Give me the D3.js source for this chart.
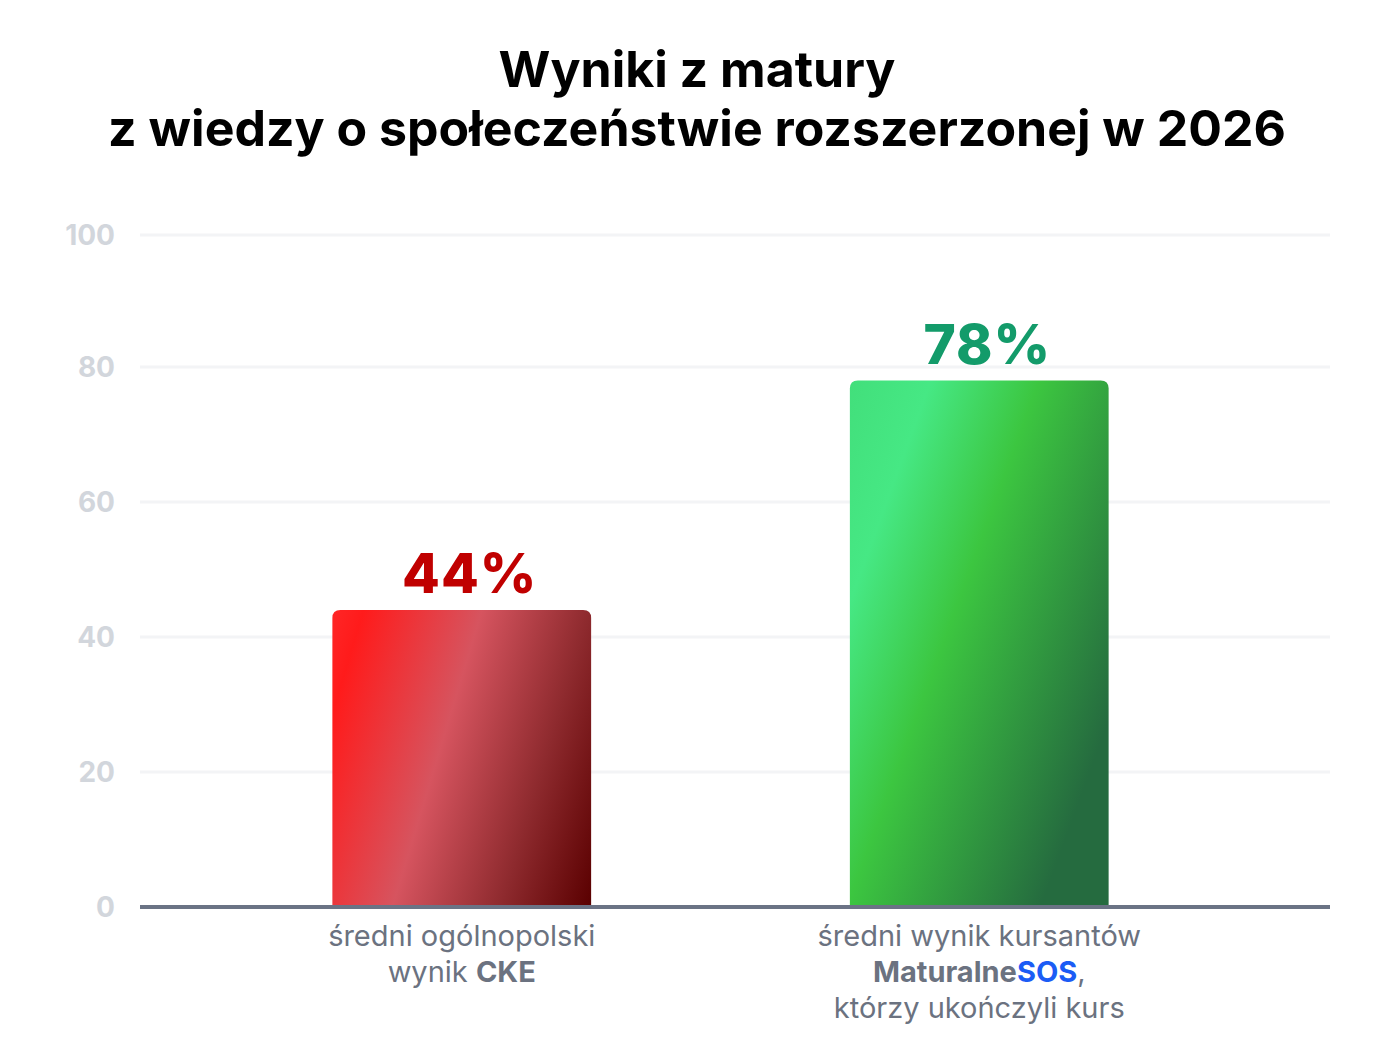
<!DOCTYPE html>
<html>
<head>
<meta charset="utf-8">
<script src="https://cdn.jsdelivr.net/npm/d3@7"></script>
<style>
  html, body { margin: 0; padding: 0; background: #ffffff; }
  svg { display: block; font-family: Inter, "Noto Sans", sans-serif; }
</style>
</head>
<body>
<svg id="chart" width="1388" height="1063"></svg>
<script>
// ---- data ----
const titleLines = ["Wyniki z matury", "z wiedzy o społeczeństwie rozszerzonej w 2026"];
const categories = ["cke", "sos"];
const values = [44, 78];
const valueLabels = ["44%", "78%"];
const categoryLabelLines = [
  ["średni ogólnopolski", "wynik **CKE**"],
  ["średni wynik kursantów", "**Maturalne**[[SOS]],", "którzy ukończyli kurs"]
];
const yTicks = [0, 20, 40, 60, 80, 100];

// ---- styles ----
const valueColors = ["#c00000", "#139b6a"];
const gradients = [
  { dir: [0.957, 0.289], stops: [[0, "#ff2626"], [0.09, "#ff1b1b"], [0.43, "#d6545f"], [0.74, "#8e2a2e"], [1, "#5a0000"]] },
  { dir: [0.939, 0.343], stops: [[0, "#42df7b"], [0.18, "#46e884"], [0.42, "#3cc640"], [0.85, "#256b3f"], [1, "#256b3f"]] }
];

const svg = d3.select("#chart");
const plot = { left: 140, right: 1330, top: 232, bottom: 907 };

const x = d3.scaleBand().domain(categories).range([203, 1238]).paddingInner(0.5).paddingOuter(0.25);
const y = d3.scaleLinear().domain([0, 100]).range([plot.bottom, plot.top]);

// title
svg.append("g").selectAll("text").data(titleLines).join("text")
  .attr("x", 697)
  .attr("y", (d, i) => 87 + i * 59)
  .attr("text-anchor", "middle")
  .attr("font-size", 50)
  .attr("font-weight", 700)
  .attr("fill", "#000")
  .text(d => d);

// gridlines
svg.append("g").selectAll("line").data(yTicks.filter(t => t > 0)).join("line")
  .attr("x1", plot.left).attr("x2", plot.right)
  .attr("y1", d => y(d) + (d === 100 ? 3 : 0))
  .attr("y2", d => y(d) + (d === 100 ? 3 : 0))
  .attr("stroke", "#f3f4f6").attr("stroke-width", 3);

// y tick labels
svg.append("g").selectAll("text").data(yTicks).join("text")
  .attr("x", 115)
  .attr("y", d => y(d) + (d === 100 ? 3 : 0))
  .attr("dy", "0.36em")
  .attr("text-anchor", "end")
  .attr("font-size", 28)
  .attr("font-weight", 700)
  .attr("fill", "#d2d6dc")
  .text(d => d);

// gradients
const defs = svg.append("defs");
categories.forEach((c, i) => {
  const x0 = x(c), w = x.bandwidth(), y0 = y(values[i]), h = plot.bottom - y0;
  const u = gradients[i].dir;
  const len = u[0] * w + u[1] * h;
  const g = defs.append("linearGradient")
    .attr("id", "grad" + i)
    .attr("gradientUnits", "userSpaceOnUse")
    .attr("x1", x0).attr("y1", y0)
    .attr("x2", x0 + u[0] * len).attr("y2", y0 + u[1] * len);
  gradients[i].stops.forEach(s => g.append("stop").attr("offset", s[0]).attr("stop-color", s[1]));
});

// bars (rounded top corners)
const r = 8;
svg.append("g").selectAll("path").data(categories).join("path")
  .attr("d", (c, i) => {
    const x0 = x(c), x1 = x0 + x.bandwidth(), yt = y(values[i]), yb = y(0);
    return `M${x0},${yb}V${yt + r}Q${x0},${yt} ${x0 + r},${yt}H${x1 - r}Q${x1},${yt} ${x1},${yt + r}V${yb}Z`;
  })
  .attr("fill", (c, i) => `url(#grad${i})`);

// value labels
svg.append("g").selectAll("text").data(categories).join("text")
  .attr("x", (c) => x(c) + x.bandwidth() / 2 + 8)
  .attr("y", (c, i) => y(values[i]) - 17)
  .attr("text-anchor", "middle")
  .attr("font-size", 55)
  .attr("font-weight", 800)
  .attr("letter-spacing", 1)
  .attr("fill", (c, i) => valueColors[i])
  .text((c, i) => valueLabels[i]);

// x axis line
svg.append("line")
  .attr("x1", plot.left).attr("x2", plot.right)
  .attr("y1", y(0)).attr("y2", y(0))
  .attr("stroke", "#6b7385").attr("stroke-width", 4);

// category labels with simple markup: **bold**, [[brand]]
function parseLine(s) {
  const parts = [];
  const re = /\*\*(.+?)\*\*|\[\[(.+?)\]\]|([^*\[]+)/g;
  let m;
  while ((m = re.exec(s)) !== null) {
    if (m[1]) parts.push({ t: m[1], kind: "bold" });
    else if (m[2]) parts.push({ t: m[2], kind: "brand" });
    else parts.push({ t: m[3], kind: "plain" });
  }
  return parts;
}
categories.forEach((c, i) => {
  const cx = x(c) + x.bandwidth() / 2;
  const g = svg.append("g");
  categoryLabelLines[i].forEach((line, li) => {
    const t = g.append("text")
      .attr("x", cx)
      .attr("y", 946 + li * 36)
      .attr("text-anchor", "middle")
      .attr("font-size", 29)
      .attr("fill", "#6b7280");
    parseLine(line).forEach(p => {
      t.append("tspan")
        .attr("font-weight", p.kind === "plain" ? 400 : 700)
        .attr("fill", p.kind === "brand" ? "#1b5cf5" : "#6b7280")
        .text(p.t);
    });
  });
});
</script>
</body>
</html>
